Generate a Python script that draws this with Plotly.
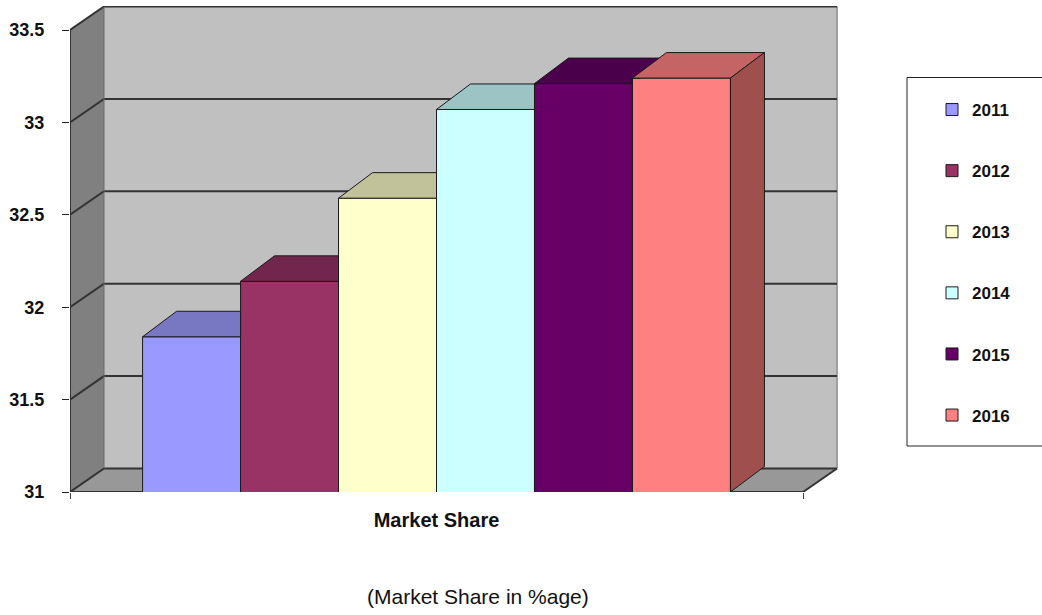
import plotly.graph_objects as go

# ---------------- data ----------------
CATEGORIES = ["Market Share"]
YEARS = ["2011", "2012", "2013", "2014", "2015", "2016"]
VALUES = [31.84, 32.14, 32.59, 33.07, 33.21, 33.24]
Y_TICKS = [31, 31.5, 32, 32.5, 33, 33.5]
Y_TICK_TEXT = ["31", "31.5", "32", "32.5", "33", "33.5"]
CAPTION = "(Market Share in %age)"

FRONT_COLORS = ["#9999FF", "#993366", "#FFFFCC", "#CCFFFF", "#660066", "#FF8080"]
TOP_COLORS = ["#7777C2", "#73264D", "#C2C29A", "#9CC4C4", "#4A004A", "#C46464"]
SIDE_COLORS = ["#7070B0", "#6A2246", "#B0B08C", "#8CB0B0", "#440044", "#A04F4F"]

# ---------------- layout geometry (styles) ----------------
W, H = 1042, 615
PLOT_L, PLOT_R, PLOT_T, PLOT_B = 70, 840, 6, 492
PX_PER_X = 733.0          # pixels per category width (front plane)
PX_PER_Y = 184.8          # pixels per value unit
X_MIN = -0.5
X_MAX = X_MIN + (PLOT_R - PLOT_L) / PX_PER_X
Y_MIN = Y_TICKS[0]
Y_MAX = Y_MIN + (PLOT_B - PLOT_T) / PX_PER_Y

WALL_DX = 34 / PX_PER_X
WALL_DY = 23.5 / PX_PER_Y
BAR_DX = 34 / PX_PER_X
BAR_DY = 25.5 / PX_PER_Y
BARGAP = 0.198

xL, xR = -0.5, 0.5
y0, y1 = Y_TICKS[0], Y_TICKS[-1]

fig = go.Figure()

# front faces of the bars
for i, (yr, v) in enumerate(zip(YEARS, VALUES)):
    fig.add_trace(go.Bar(
        x=[0], y=[v], name=yr, legendgroup=yr,
        marker=dict(color=FRONT_COLORS[i], line=dict(color="#1a1a1a", width=1)),
        hoverinfo="skip",
    ))

# 3-D top / side faces computed from the values
n = len(VALUES)
bw = (1 - BARGAP) / n
for i, v in enumerate(VALUES):
    l = -(1 - BARGAP) / 2 + i * bw
    r = l + bw
    xs = [l, r]
    ys = [v, v]
    if i + 1 < n and VALUES[i + 1] > v:
        vn = VALUES[i + 1]
        if vn < v + BAR_DY:
            xs += [r, r + BAR_DX * (vn - v) / BAR_DY, r + BAR_DX]
            ys += [vn, vn, v + BAR_DY]
        else:
            xs += [r]
            ys += [v + BAR_DY]
    else:
        xs += [r + BAR_DX]
        ys += [v + BAR_DY]
    xs += [l + BAR_DX, l]
    ys += [v + BAR_DY, v]
    fig.add_trace(go.Scatter(
        x=xs, y=ys, mode="lines", fill="toself", fillcolor=TOP_COLORS[i],
        line=dict(color="#1a1a1a", width=1), showlegend=False, hoverinfo="skip",
    ))
    if i == n - 1:
        fig.add_trace(go.Scatter(
            x=[r, r, r + BAR_DX, r + BAR_DX, r],
            y=[y0, v, v + BAR_DY, y0 + BAR_DY, y0],
            mode="lines", fill="toself", fillcolor=SIDE_COLORS[i],
            line=dict(color="#1a1a1a", width=1), showlegend=False, hoverinfo="skip",
        ))

# walls, floor and gridlines (drawn below the bars)
def path(pts, close=True):
    s = "M " + " L ".join(f"{x},{y}" for x, y in pts)
    return s + (" Z" if close else "")

shapes = []
# back wall
shapes.append(dict(type="path", layer="below", xref="x", yref="y",
                   path=path([(xL + WALL_DX, y0 + WALL_DY), (xR + WALL_DX, y0 + WALL_DY),
                              (xR + WALL_DX, y1 + WALL_DY), (xL + WALL_DX, y1 + WALL_DY)]),
                   fillcolor="#C0C0C0", line=dict(width=0)))
# right edge of back wall
shapes.append(dict(type="line", layer="below", xref="x", yref="y",
                   x0=xR + WALL_DX, x1=xR + WALL_DX, y0=y0 + WALL_DY, y1=y1 + WALL_DY,
                   line=dict(color="#A0A0A0", width=2)))
# left wall
shapes.append(dict(type="path", layer="below", xref="x", yref="y",
                   path=path([(xL, y0), (xL, y1), (xL + WALL_DX, y1 + WALL_DY), (xL + WALL_DX, y0 + WALL_DY)]),
                   fillcolor="#808080", line=dict(width=0)))
# floor
shapes.append(dict(type="path", layer="below", xref="x", yref="y",
                   path=path([(xL, y0), (xR, y0), (xR + WALL_DX, y0 + WALL_DY), (xL + WALL_DX, y0 + WALL_DY)]),
                   fillcolor="#989898", line=dict(width=0)))
# gridlines (side wall diagonal + back wall)
for t in Y_TICKS:
    shapes.append(dict(type="path", layer="below", xref="x", yref="y",
                       path=path([(xL, t), (xL + WALL_DX, t + WALL_DY), (xR + WALL_DX, t + WALL_DY)], close=False),
                       line=dict(color="#333333", width=2)))
# front edge of left wall (value axis line)
shapes.append(dict(type="line", layer="below", xref="x", yref="y",
                   x0=xL, x1=xL, y0=y0, y1=y1, line=dict(color="#333333", width=2)))
# back vertical edge of left wall
shapes.append(dict(type="line", layer="below", xref="x", yref="y",
                   x0=xL + WALL_DX, x1=xL + WALL_DX, y0=y0 + WALL_DY, y1=y1 + WALL_DY,
                   line=dict(color="#6a6a6a", width=1)))
# floor front edge and right diagonal
shapes.append(dict(type="path", layer="below", xref="x", yref="y",
                   path=path([(xL, y0), (xR, y0), (xR + WALL_DX, y0 + WALL_DY)], close=False),
                   line=dict(color="#333333", width=2)))

# legend box
def px_to_paper_x(px):
    return (px - PLOT_L) / (PLOT_R - PLOT_L)

def px_to_paper_y(py):
    return (PLOT_B - py) / (PLOT_B - PLOT_T)

shapes.append(dict(type="rect", xref="paper", yref="paper", layer="above",
                    x0=px_to_paper_x(907), x1=px_to_paper_x(1048),
                    y0=px_to_paper_y(446), y1=px_to_paper_y(77.5),
                    line=dict(color="#222222", width=1), fillcolor="rgba(0,0,0,0)"))

FONT = "Liberation Sans, Arial, sans-serif"

fig.update_layout(
    width=W, height=H,
    margin=dict(l=PLOT_L, r=W - PLOT_R, t=PLOT_T, b=H - PLOT_B, pad=0),
    paper_bgcolor="white", plot_bgcolor="white",
    barmode="group", bargap=BARGAP, bargroupgap=0,
    shapes=shapes,
    showlegend=True,
    legend=dict(
        x=px_to_paper_x(932), xanchor="left",
        y=px_to_paper_y(92), yanchor="top",
        traceorder="grouped", tracegroupgap=36,
        bgcolor="rgba(0,0,0,0)", borderwidth=0,
        font=dict(family=FONT, size=17, color="#111111", weight="bold"),
        itemclick=False, itemdoubleclick=False,
    ),
    xaxis=dict(
        range=[X_MIN, X_MAX], tickmode="array", tickvals=list(range(len(CATEGORIES))),
        ticktext=CATEGORIES, ticks="", showgrid=False, zeroline=False, showline=False,
        tickfont=dict(family=FONT, size=20, color="#111111", weight="bold"),
        ticklabelstandoff=14,
        minor=dict(tickmode="array", tickvals=[xL, xR], ticks="outside", ticklen=6,
                   tickcolor="#444444", tickwidth=1, showgrid=False),
        fixedrange=True,
    ),
    yaxis=dict(
        range=[Y_MIN, Y_MAX], tickmode="array", tickvals=Y_TICKS, ticktext=Y_TICK_TEXT,
        ticks="outside", ticklen=7, tickcolor="#222222", tickwidth=1,
        showgrid=False, zeroline=False, showline=False,
        tickfont=dict(family=FONT, size=18, color="#111111", weight="bold"),
        ticklabelstandoff=14,
        fixedrange=True,
    ),
    annotations=[dict(
        text=CAPTION, xref="paper", yref="paper",
        x=px_to_paper_x(478), y=px_to_paper_y(596), xanchor="center", yanchor="middle",
        showarrow=False, font=dict(family=FONT, size=21, color="#111111"),
    )],
)

fig.write_html("out.html", config={"displayModeBar": False})
